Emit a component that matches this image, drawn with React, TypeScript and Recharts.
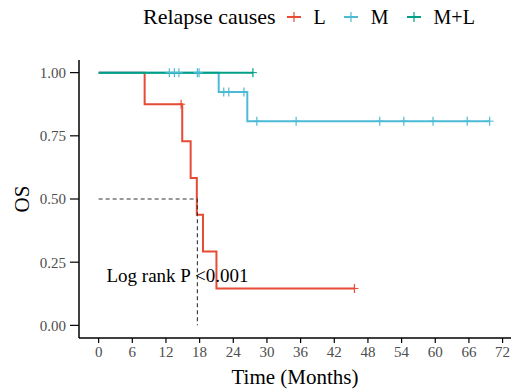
import React from "react";
import { ComposedChart, Line, Scatter, XAxis, YAxis } from "recharts";

// Kaplan-Meier step values
const lTimes = [0, 8.2, 14.9, 16.4, 17.5, 18.6, 21.0, 45.6];
const lSurv = [1, 0.875, 0.729, 0.583, 0.438, 0.292, 0.146, 0.146];
const lCensorTimes = [14.7, 45.6];
const lCensorSurv = [0.875, 0.146];

const mTimes = [0, 21.4, 26.5, 69.7];
const mSurv = [1, 0.923, 0.808, 0.808];
const mCensorTimes = [12.6, 13.5, 14.3, 17.6, 17.9, 22.3, 23.2, 25.9, 28.2, 35.2, 50.1, 54.4, 59.6, 65.7, 69.7];
const mCensorSurv = [1, 1, 1, 1, 1, 0.923, 0.923, 0.923, 0.808, 0.808, 0.808, 0.808, 0.808, 0.808, 0.808];

const mlTimes = [0, 27.5];
const mlSurv = [1, 1];
const mlCensorTimes = [27.5];
const mlCensorSurv = [1];

const medianTimes = [0, 17.6, 17.6];
const medianSurv = [0.5, 0.5, 0];

const xTicks = [0, 6, 12, 18, 24, 30, 36, 42, 48, 54, 60, 66, 72];
const yTicks = [0, 0.25, 0.5, 0.75, 1];

const groups = ["L", "M", "M+L"];
const COLORS: Record<string, string> = { L: "#E64B35", M: "#4DBBD5", "M+L": "#00A087" };

const pvalText = "Log rank P <0.001";
const pvalPos = [1.4, 0.196];

const FONT = "'Liberation Serif', 'Times New Roman', serif";

const toRows = (ts: number[], ss: number[]) => ts.map((t, i) => ({ t, s: ss[i] }));

const lData = toRows(lTimes, lSurv);
const mData = toRows(mTimes, mSurv);
const mlData = toRows(mlTimes, mlSurv);
const lCens = toRows(lCensorTimes, lCensorSurv);
const mCens = toRows(mCensorTimes, mCensorSurv);
const mlCens = toRows(mlCensorTimes, mlCensorSurv);
const medianData = toRows(medianTimes, medianSurv);

function censorShape(color: string) {
  return (props: any) => {
    const { cx, cy } = props;
    return (
      <g>
        <line x1={cx - 4} x2={cx + 4} y1={cy} y2={cy} stroke={color} strokeWidth={1} />
        <line x1={cx} x2={cx} y1={cy - 4.5} y2={cy + 4.5} stroke={color} strokeWidth={1.2} />
      </g>
    );
  };
}

function LegendKey({ color }: { color: string }) {
  return (
    <svg width={14} height={14} style={{ display: "block" }}>
      <line x1={0} x2={14} y1={7} y2={7} stroke={color} strokeWidth={2} />
      <line x1={7} x2={7} y1={2} y2={12} stroke={color} strokeWidth={1.2} />
    </svg>
  );
}

export default function App() {
  return (
    <div style={{ position: "absolute", left: 0, top: 0, width: 512, height: 390, background: "#fff" }}>
      <div
        style={{
          position: "absolute",
          left: 143,
          top: 3,
          height: 28,
          display: "flex",
          alignItems: "center",
          fontFamily: FONT,
          color: "#000",
        }}
      >
        <span style={{ fontSize: 22, marginRight: 11 }}>Relapse causes</span>
        {groups.map((g) => (
          <span key={g} style={{ display: "flex", alignItems: "center", marginRight: 18 }}>
            <LegendKey color={COLORS[g]} />
            <span style={{ fontSize: 20, marginLeft: 13 }}>{g}</span>
          </span>
        ))}
      </div>
      <ComposedChart width={512} height={390} margin={{ top: 60, right: 1, bottom: 0, left: 0 }}>
        <XAxis
          type="number"
          dataKey="t"
          domain={[-3.5, 73.5]}
          ticks={xTicks}
          allowDataOverflow
          height={52}
          tickSize={5}
          tickMargin={3}
          axisLine={{ stroke: "#000", strokeWidth: 1.5 }}
          tickLine={{ stroke: "#000", strokeWidth: 1.2 }}
          tick={{ fill: "#4d4d4d", fontSize: 15, fontFamily: FONT }}
          label={{
            value: "Time (Months)",
            position: "insideBottom",
            offset: 6,
            style: { fill: "#000", fontSize: 21, fontFamily: FONT },
          }}
        />
        <YAxis
          type="number"
          dataKey="s"
          domain={[-0.05, 1.05]}
          ticks={yTicks}
          allowDataOverflow
          width={79}
          tickSize={9}
          tickMargin={4}
          tickFormatter={(v: number) => v.toFixed(2)}
          axisLine={{ stroke: "#000", strokeWidth: 1.5 }}
          tickLine={{ stroke: "#000", strokeWidth: 1.2 }}
          tick={{ fill: "#4d4d4d", fontSize: 15, fontFamily: FONT }}
          label={{
            value: "OS",
            angle: -90,
            position: "insideLeft",
            offset: 22,
            style: { fill: "#000", fontSize: 21, fontFamily: FONT, textAnchor: "middle" },
          }}
        />
        <Line data={lData} dataKey="s" type="stepAfter" stroke={COLORS.L} strokeWidth={2} dot={false} activeDot={false} isAnimationActive={false} />
        <Line data={mData} dataKey="s" type="stepAfter" stroke={COLORS.M} strokeWidth={2} dot={false} activeDot={false} isAnimationActive={false} />
        <Line data={mlData} dataKey="s" type="stepAfter" stroke={COLORS["M+L"]} strokeWidth={2} dot={false} activeDot={false} isAnimationActive={false} />
        <Scatter data={lCens} shape={censorShape(COLORS.L)} isAnimationActive={false} />
        <Scatter data={mCens} shape={censorShape(COLORS.M)} isAnimationActive={false} />
        <Scatter data={mlCens} shape={censorShape(COLORS["M+L"])} isAnimationActive={false} />
        <Line
          data={medianData}
          dataKey="s"
          type="linear"
          stroke="#333"
          strokeWidth={1.1}
          strokeDasharray="4 3"
          dot={false}
          activeDot={false}
          isAnimationActive={false}
        />
        <Scatter
          data={[{ t: pvalPos[0], s: pvalPos[1] }]}
          isAnimationActive={false}
          shape={(p: any) => (
            <text x={p.cx} y={p.cy} dominantBaseline="central" fontSize={19} fontFamily={FONT} fill="#000">
              {pvalText}
            </text>
          )}
        />
      </ComposedChart>
    </div>
  );
}
